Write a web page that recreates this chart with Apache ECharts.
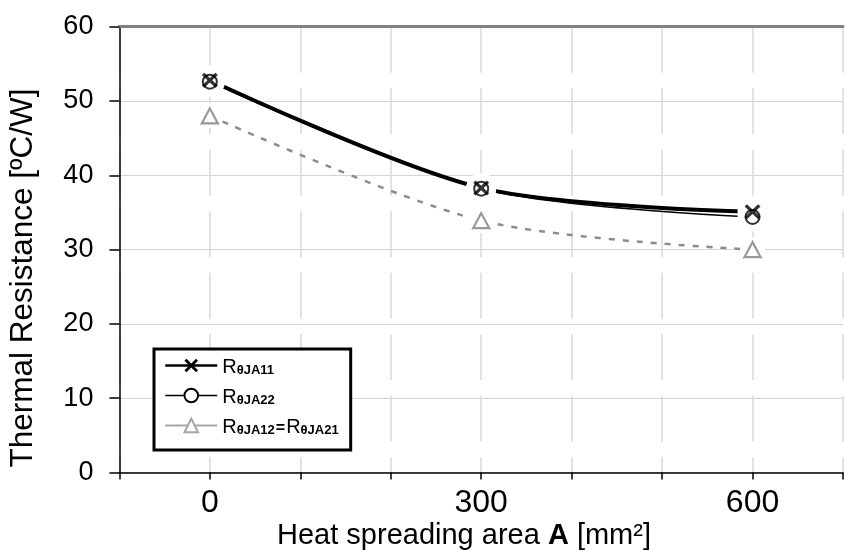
<!DOCTYPE html>
<html><head><meta charset="utf-8">
<script src="https://cdn.jsdelivr.net/npm/echarts@6/dist/echarts.min.js"></script>
<style>html,body{margin:0;padding:0;background:#fff}#c{width:846px;height:550px}</style>
</head><body><div id="c"></div>
<script>
// ---- data ----
const areas = [0, 300, 600];
const rJA11 = [52.8, 38.3, 35.1];
const rJA22 = [52.6, 38.2, 34.4];
const rJA12 = [48.0, 33.9, 30.0];
const xTickLabels = [0, 300, 600];
const seriesNames = ['RθJA11', 'RθJA22', 'RθJA12 = RθJA21'];
const yTitle = 'Thermal Resistance [ºC/W]';

const FONT = 'Liberation Sans, Arial, sans-serif';
const pts = arr => areas.map((a, i) => [a, arr[i]]);
const XPATH = 'path://M0,1.5 L1.5,0 L5,3.5 L8.5,0 L10,1.5 L6.5,5 L10,8.5 L8.5,10 L5,6.5 L1.5,10 L0,8.5 L3.5,5 Z';

const chart = echarts.init(document.getElementById('c'));
chart.setOption({
  animation: false,
  backgroundColor: '#fff',
  textStyle: { fontFamily: FONT },
  grid: { left: 119.4, right: -4.1, top: 26.7, bottom: 77.5, containLabel: false },
  xAxis: [{
    type: 'value', min: -100, max: 700, interval: 100, position: 'bottom',
    axisLine: { show: true, onZero: false, lineStyle: { color: '#000', width: 1.5 } },
    axisTick: { show: true, length: 7, lineStyle: { color: '#000', width: 1.5 } },
    axisLabel: {
      fontSize: 32, color: '#000', fontFamily: FONT, margin: 15,
      showMinLabel: true, showMaxLabel: true,
      formatter: v => xTickLabels.indexOf(v) >= 0 ? String(v) : ''
    },
    splitLine: { show: true, lineStyle: { color: '#d9d9d9', width: 1.5, type: [46, 15.5] } }
  }, {
    type: 'value', min: -100, max: 700, position: 'top',
    axisLine: { show: true, onZero: false, lineStyle: { color: '#808080', width: 3 } },
    axisTick: { show: false }, axisLabel: { show: false }, splitLine: { show: false }
  }],
  yAxis: {
    type: 'value', min: 0, max: 60, interval: 10, position: 'left',
    axisLine: { show: true, onZero: false, lineStyle: { color: '#000', width: 1.5 } },
    axisTick: { show: true, length: 10, lineStyle: { color: '#000', width: 1.5 } },
    axisLabel: { fontSize: 27, color: '#000', fontFamily: FONT, margin: 26 },
    splitLine: { show: true, lineStyle: { color: '#d4d4d4', width: 1 } }
  },
  legend: {
    orient: 'vertical', left: 154, top: 349,
    backgroundColor: '#fff', borderColor: '#000', borderWidth: 3, borderRadius: 0,
    padding: [8, 12, 13, 10], itemGap: 10, itemWidth: 52, itemHeight: 17,
    data: [
      { name: seriesNames[0], lineStyle: { width: 2.5 } },
      { name: seriesNames[1], lineStyle: { width: 1.5 } },
      { name: seriesNames[2], lineStyle: { width: 2, color: '#a6a6a6', type: 'solid' }, itemStyle: { borderColor: '#a6a6a6' } }
    ],
    formatter: function (name) {
      if (name === seriesNames[0]) return '{r|R}{s|θJA11}';
      if (name === seriesNames[1]) return '{r|R}{s|θJA22}';
      return '{r|R}{s|θJA12}{e|=}{r|R}{s|θJA21}';
    },
    textStyle: {
      color: '#000', fontFamily: FONT,
      rich: {
        r: { fontSize: 20, lineHeight: 23, verticalAlign: 'bottom', fontFamily: FONT, color: '#000' },
        s: { fontSize: 13, lineHeight: 15, fontWeight: 'bold', verticalAlign: 'bottom', fontFamily: FONT, color: '#000' },
        e: { fontSize: 16, lineHeight: 18, fontWeight: 'bold', verticalAlign: 'bottom', padding: [0, 1, 0, 1], fontFamily: FONT, color: '#000' }
      }
    }
  },
  graphic: [
    { type: 'text', x: 23, y: 278, rotation: Math.PI / 2,
      style: { text: yTitle, fontSize: 31.5, fontFamily: FONT, fill: '#000', align: 'center', verticalAlign: 'middle' } },
    { type: 'text', x: 464, y: 536,
      style: { text: '{n|Heat spreading area }{b|A}{n| [mm²]}', align: 'center', verticalAlign: 'middle', fill: '#000',
        rich: { n: { fontSize: 29, fontFamily: FONT, fill: '#000' }, b: { fontSize: 29, fontWeight: 'bold', fontFamily: FONT, fill: '#000' } } } }
  ],
  series: [
    { name: seriesNames[1], type: 'line', z: 2, data: pts(rJA22), smooth: 0.3,
      symbol: 'circle', symbolSize: 11,
      itemStyle: { color: '#fff', borderColor: '#000', borderWidth: 1.5 },
      lineStyle: { color: '#000', width: 1.5 } },
    { name: seriesNames[0], type: 'line', z: 2, data: pts(rJA11), smooth: 0.3,
      symbol: XPATH, symbolSize: 13,
      itemStyle: { color: '#000' },
      lineStyle: { color: '#000', width: 4 } },
    { name: seriesNames[2], type: 'line', z: 2, data: pts(rJA12), smooth: 0.3,
      symbol: 'triangle', symbolSize: 16,
      itemStyle: { color: '#fff', borderColor: '#808080', borderWidth: 2 },
      lineStyle: { color: '#8c8c8c', width: 2.5, type: [6, 8] } },
    // white halos around the markers (gap between line and marker)
    { name: 'halo1', type: 'scatter', z: 3, symbol: 'circle', symbolSize: 30,
      itemStyle: { color: '#ffffff', opacity: 1 },
      data: pts(rJA11).concat(pts(rJA22)) },
    { name: 'halo2', type: 'scatter', z: 3, symbol: 'circle', symbolSize: 25,
      itemStyle: { color: '#ffffff', opacity: 1 },
      data: pts(rJA12) },
    // markers
    { name: 'm22', type: 'scatter', z: 4, symbol: 'circle', symbolSize: 14,
      itemStyle: { color: 'rgba(255,255,255,0)', borderColor: '#000', borderWidth: 2 }, data: pts(rJA22) },
    { name: 'm11', type: 'scatter', z: 5, symbol: XPATH, symbolSize: [16, 15],
      itemStyle: { color: '#000' }, data: pts(rJA11) },
    { name: 'm12', type: 'scatter', z: 4, symbol: 'triangle', symbolSize: [16, 15],
      itemStyle: { color: 'rgba(255,255,255,0)', borderColor: '#808080', borderWidth: 2.2 }, data: pts(rJA12) }
  ]
});
</script></body></html>
